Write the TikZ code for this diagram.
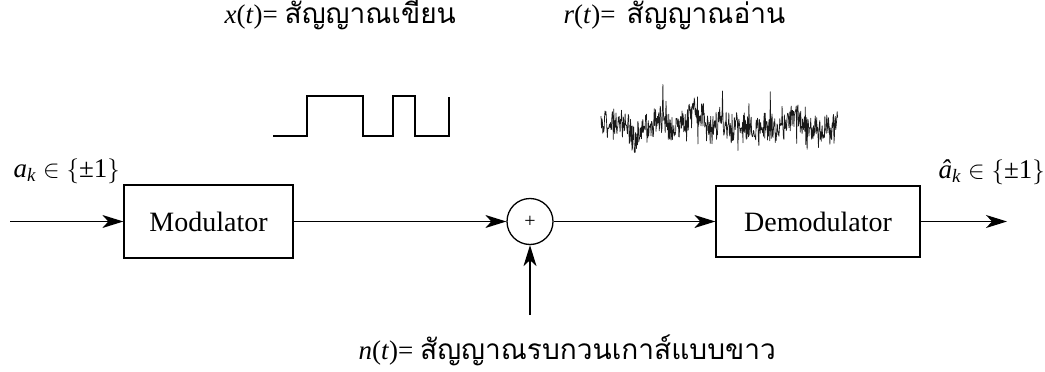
\documentclass[tikz,border=0pt]{standalone}
\usepackage{fontspec}
\setmainfont{Liberation Serif}
\newfontfamily\thai[Script=Thai,Scale=1.04]{Loma}
\usetikzlibrary{arrows.meta}
\begin{document}
\begin{tikzpicture}[x=1pt,y=-1pt,line width=1.3pt,
  blockbox/.style={draw,inner sep=0pt,font=\fontsize{28}{30}\selectfont},
  sig/.style={-{Stealth[length=21pt,width=13pt,inset=6pt]}},
  lbl/.style={anchor=west,inner sep=0pt,font=\fontsize{27}{29}\selectfont},
  wave/.style={line width=1.3pt},
  noisy/.style={line width=0.7pt,black!90,line join=round}]
\useasboundingbox (0,0) rectangle (1045,372);
% blocks
\node[blockbox,minimum width=169pt,minimum height=73pt] (mod) at (208.5,221.5) {Modulator};
\node[draw,circle,minimum size=46pt,inner sep=0pt] (sum) at (530,221.5) {\fontsize{20}{20}\selectfont +};
\node[blockbox,minimum width=204pt,minimum height=71pt] (demod) at (818,221.5) {Demodulator};
\coordinate (in) at (10,221.5);
\coordinate (out) at (1007,221.5);
\coordinate (nin) at (530,315);
% connectors
\draw[sig] (in) -- (mod.west);
\draw[sig] (mod.east) -- (sum.west);
\draw[sig] (sum.east) -- (demod.west);
\draw[sig] (demod.east) -- (out);
\draw[sig] (nin) -- (sum.south);
% labels
\node[lbl] (ak) at (13,171) {\textit{a}\textsubscript{\textit{k}} $\in\bigl\{$±1$\bigr\}$};
\node[lbl] (ahk) at (938,172) {\textit{â}\textsubscript{\textit{k}} $\in\bigl\{$±1$\bigr\}$};
\node[lbl] (xl) at (224,15) {\textit{x}(\textit{t})= {\thai สัญญาณเขียน}};
\node[lbl] (rl) at (563,15) {\textit{r}(\textit{t})=\, {\thai สัญญาณอ่าน}};
\node[lbl] (nl) at (358,350) {\textit{n}(\textit{t})= {\thai สัญญาณรบกวนเกาส์แบบขาว}};
% square wave x(t)
\draw[wave] (273,136) -| (307,96) -| (363,136) -| (393,96) -| (415,136) -| (449,97);
% noise r(t)
\pgfmathsetseed{17}
\gdef\noisecoords{}
\gdef\nw{0}
\foreach \i in {0,...,520}{
  \pgfmathsetmacro\xx{601+\i*0.455}
  \pgfmathsetmacro\ww{0.95*\nw+3*rand}
  \xdef\nw{\ww}
  \pgfmathsetmacro\yy{min(166,max(84,122+\ww+14*rand+(rnd>0.93)*26*rand))}
  \xdef\noisecoords{\noisecoords (\xx,\yy)}
}
\edef\drawnoise{\noexpand\draw[noisy] plot coordinates {\noisecoords};}
\drawnoise
\end{tikzpicture}
\end{document}
